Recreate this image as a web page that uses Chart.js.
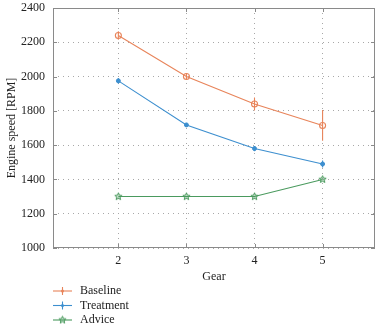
<!DOCTYPE html>
<html><head><meta charset="utf-8">
<script src="https://cdn.jsdelivr.net/npm/chart.js@4/dist/chart.umd.min.js"></script>
<style>html,body{margin:0;padding:0;background:#fff;}#wrap{width:381px;height:325px;}</style>
</head><body><div id="wrap"><canvas id="c" width="381" height="325"></canvas></div>
<script>
const gears = [2, 3, 4, 5];
const baseline = [2240, 2000, 1840, 1715];
const baselineErr = [25, 15, 38, 90];
const treatment = [1975, 1718, 1580, 1490];
const treatmentErr = [15, 8, 15, 20];
const advice = [1300, 1300, 1300, 1400];
const adviceErr = [0, 0, 0, 0];
const yTicks = [1000, 1200, 1400, 1600, 1800, 2000, 2200, 2400];
const seriesNames = ['Baseline', 'Treatment', 'Advice'];
const colors = ['#E8845A', '#3D8FCF', '#4A9A5E'];

function starCanvas(color, r) {
  const s = Math.ceil(r * 2 + 3);
  const cv = document.createElement('canvas');
  cv.width = s; cv.height = s;
  const c = cv.getContext('2d');
  c.beginPath();
  for (let i = 0; i < 10; i++) {
    const rad = i % 2 === 0 ? r : r * 0.45;
    const a = -Math.PI / 2 + i * Math.PI / 5;
    const x = s / 2 + rad * Math.cos(a), y = s / 2 + rad * Math.sin(a);
    if (i === 0) c.moveTo(x, y); else c.lineTo(x, y);
  }
  c.closePath();
  c.fillStyle = 'rgba(74,154,94,0.3)';
  c.fill();
  c.strokeStyle = color; c.lineWidth = 1; c.stroke();
  return cv;
}
const star = starCanvas(colors[2], 3.8);

const errs = [baselineErr, treatmentErr, adviceErr];

const errorBarPlugin = {
  id: 'errbars',
  afterDatasetsDraw(chart) {
    const ctx = chart.ctx;
    const xs = chart.scales.x, ys = chart.scales.y;
    chart.data.datasets.forEach((ds, i) => {
      const e = errs[i];
      ctx.save();
      ctx.strokeStyle = colors[i];
      ctx.lineWidth = 1.1;
      ds.data.forEach((p, j) => {
        if (!e[j]) return;
        const x = xs.getPixelForValue(p.x);
        const y1 = ys.getPixelForValue(p.y - e[j]);
        const y2 = ys.getPixelForValue(p.y + e[j]);
        ctx.beginPath(); ctx.moveTo(x, y1); ctx.lineTo(x, y2); ctx.stroke();
      });
      ctx.restore();
    });
  }
};

const framePlugin = {
  id: 'frame',
  afterDraw(chart) {
    const {left, top, right, bottom} = chart.chartArea;
    const ctx = chart.ctx;
    ctx.save();
    ctx.strokeStyle = '#8a8a8a';
    ctx.lineWidth = 1;
    ctx.strokeRect(Math.round(left) + 0.5, Math.round(top) + 0.5, Math.round(right - left) - 1, Math.round(bottom - top) - 1);
    const xs = chart.scales.x;
    gears.forEach(g => {
      const x = Math.round(xs.getPixelForValue(g)) + 0.5;
      ctx.beginPath();
      ctx.moveTo(x, bottom); ctx.lineTo(x, bottom - 4);
      ctx.moveTo(x, top); ctx.lineTo(x, top + 4);
      ctx.stroke();
    });
    const ys = chart.scales.y;
    yTicks.forEach(v => {
      const y = Math.round(ys.getPixelForValue(v)) + 0.5;
      ctx.beginPath();
      ctx.moveTo(left, y); ctx.lineTo(left + 4, y);
      ctx.moveTo(right, y); ctx.lineTo(right - 4, y);
      ctx.stroke();
    });
    ctx.restore();

    // legend
    ctx.save();
    ctx.font = '12px "Liberation Serif", "DejaVu Serif", serif';
    ctx.textBaseline = 'middle';
    const lx0 = 53, lx1 = 72, tx = 80;
    const ly = [291, 305.5, 320];
    chart.data.datasets.forEach((ds, i) => {
      const y = ly[i];
      ctx.strokeStyle = colors[i]; ctx.lineWidth = 1.1;
      ctx.beginPath(); ctx.moveTo(lx0, y); ctx.lineTo(lx1, y); ctx.stroke();
      const cx = (lx0 + lx1) / 2;
      if (i < 2) {
        ctx.beginPath(); ctx.moveTo(cx, y - 4); ctx.lineTo(cx, y + 4); ctx.stroke();
        ctx.beginPath(); ctx.arc(cx, y, 1.5, 0, Math.PI * 2); ctx.fillStyle = colors[i]; ctx.fill();
      } else {
        ctx.drawImage(star, cx - star.width / 2, y - star.height / 2);
      }
      ctx.fillStyle = '#222';
      ctx.fillText(ds.label, tx, y);
    });
    ctx.restore();
  }
};

const serif = '"Liberation Serif", "DejaVu Serif", serif';

new Chart(document.getElementById('c'), {
  type: 'line',
  data: {
    datasets: [
      { label: seriesNames[0], data: gears.map((g, i) => ({x: g, y: baseline[i]})),
        borderColor: colors[0], backgroundColor: 'rgba(255,255,255,0)', borderWidth: 1.1,
        pointStyle: 'circle', pointRadius: 3, pointBorderWidth: 1.1, pointBorderColor: colors[0], pointBackgroundColor: 'rgba(255,255,255,0)' },
      { label: seriesNames[1], data: gears.map((g, i) => ({x: g, y: treatment[i]})),
        borderColor: colors[1], backgroundColor: colors[1], borderWidth: 1.1,
        pointStyle: 'circle', pointRadius: 2, pointBorderWidth: 1, pointBorderColor: colors[1], pointBackgroundColor: colors[1] },
      { label: seriesNames[2], data: gears.map((g, i) => ({x: g, y: advice[i]})),
        borderColor: colors[2], backgroundColor: colors[2], borderWidth: 1.1,
        pointStyle: star, pointRadius: 4 }
    ]
  },
  options: {
    responsive: false,
    animation: false,
    layout: { padding: { top: 8, right: 6, bottom: 41, left: 0 } },
    plugins: { legend: { display: false }, tooltip: { enabled: false } },
    scales: {
      x: {
        type: 'linear', min: 1.04, max: 5.77,
        afterBuildTicks(s) { s.ticks = gears.map(v => ({value: v})); },
        afterFit(s) { s.height = 36; s.paddingLeft = 0; s.paddingRight = 0; },
        grid: { color: '#a8a8a8', lineWidth: 1, drawTicks: false },
        border: { display: false, dash: [1, 4] },
        ticks: { padding: 6, color: '#222', font: { family: serif, size: 12 }, callback: v => String(v) },
        title: { display: true, text: 'Gear', color: '#222', font: { family: serif, size: 12 }, padding: 0 }
      },
      y: {
        min: 1000, max: 2400,
        afterBuildTicks(s) { s.ticks = yTicks.map(v => ({value: v})); },
        afterFit(s) { s.width = 53; s.paddingTop = 0; s.paddingBottom = 0; },
        grid: { color: '#a8a8a8', lineWidth: 1, drawTicks: false },
        border: { display: false, dash: [1, 4] },
        ticks: { padding: 8, color: '#222', font: { family: serif, size: 12 }, callback: v => String(v) },
        title: { display: true, text: 'Engine speed [RPM]', color: '#222', font: { family: serif, size: 12 }, padding: { top: 5, bottom: 0 } }
      }
    }
  },
  plugins: [errorBarPlugin, framePlugin]
});
</script>
</body></html>
